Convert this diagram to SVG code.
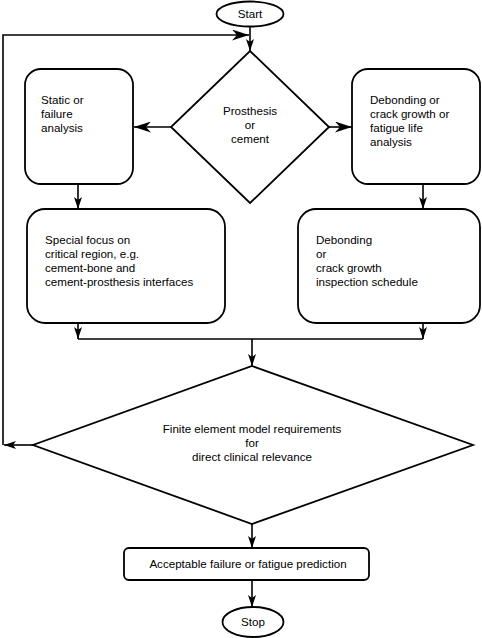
<svg xmlns="http://www.w3.org/2000/svg" width="482" height="638" viewBox="0 0 482 638">
<defs>
<style>
.n{fill:#fff;stroke:#000;stroke-width:1.8}
.c{fill:none;stroke:#000;stroke-width:1.6}
text{font-family:"Liberation Sans",Arial,sans-serif;font-size:11.6px;fill:#000}
.m{text-anchor:middle}
</style>
<marker id="a" viewBox="0 0 12 8" refX="12" refY="4" markerWidth="12" markerHeight="8" markerUnits="userSpaceOnUse" orient="auto">
<path d="M0,0 L12,4 L0,8 L3,4 Z" fill="#000"/>
</marker>
<marker id="b" viewBox="0 0 17 11" refX="17" refY="5.5" markerWidth="17" markerHeight="11" markerUnits="userSpaceOnUse" orient="auto">
<path d="M0,0 L17,5.5 L0,11 L5,5.5 Z" fill="#000"/>
</marker>
</defs>
<rect width="482" height="638" fill="#fff"/>
<g id="connectors">
<path class="c" d="M250,26 V51" marker-end="url(#a)"/>
<path class="c" d="M33,445 H4" marker-end="url(#a)"/>
<path class="c" d="M3,445 V35 H249" marker-end="url(#b)"/>
<path class="c" d="M171,127 H134" marker-end="url(#b)"/>
<path class="c" d="M329,127 H352" marker-end="url(#b)"/>
<path class="c" d="M78,184 V209" marker-end="url(#a)"/>
<path class="c" d="M423,184 V209" marker-end="url(#a)"/>
<path class="c" d="M78,323 V339" marker-end="url(#a)"/>
<path class="c" d="M423,323 V339" marker-end="url(#a)"/>
<path class="c" d="M78,339 H423"/>
<path class="c" d="M252,339 V366" marker-end="url(#a)"/>
<path class="c" d="M252,524 V548" marker-end="url(#a)"/>
<path class="c" d="M252,580 V607" marker-end="url(#a)"/>
</g>
<g id="start">
<ellipse class="n" cx="250" cy="14" rx="33.5" ry="12.5"/>
<text class="m" x="250" y="18">Start</text>
</g>
<g id="decision1">
<polygon class="n" points="250,51 329,127 250,203 171,127"/>
<text class="m" x="250" y="115">Prosthesis</text>
<text class="m" x="250" y="129">or</text>
<text class="m" x="250" y="143">cement</text>
</g>
<g id="static">
<rect class="n" x="25" y="69" width="108" height="115" rx="16"/>
<text x="41" y="104">Static or</text>
<text x="41" y="118">failure</text>
<text x="41" y="132">analysis</text>
</g>
<g id="debonding">
<rect class="n" x="352" y="69" width="128" height="115" rx="16"/>
<text x="370" y="104">Debonding or</text>
<text x="370" y="118">crack growth or</text>
<text x="370" y="132">fatigue life</text>
<text x="370" y="146">analysis</text>
</g>
<g id="focus">
<rect class="n" x="27" y="209" width="198" height="114" rx="18"/>
<text x="45" y="244">Special focus on</text>
<text x="45" y="258">critical region, e.g.</text>
<text x="45" y="272">cement-bone and</text>
<text x="45" y="286">cement-prosthesis interfaces</text>
</g>
<g id="schedule">
<rect class="n" x="298" y="209" width="182" height="114" rx="18"/>
<text x="316" y="244">Debonding</text>
<text x="316" y="258">or</text>
<text x="316" y="272">crack growth</text>
<text x="316" y="286">inspection schedule</text>
</g>
<g id="decision2">
<polygon class="n" points="252,366 473,445 252,524 33,445"/>
<text class="m" x="252" y="433">Finite element model requirements</text>
<text class="m" x="252" y="447">for</text>
<text class="m" x="252" y="461">direct clinical relevance</text>
</g>
<g id="acceptable">
<rect class="n" x="124" y="548" width="245" height="32" rx="5"/>
<text class="m" x="248" y="568">Acceptable failure or fatigue prediction</text>
</g>
<g id="stop">
<ellipse class="n" cx="253" cy="622" rx="30.5" ry="15"/>
<text class="m" x="253" y="626">Stop</text>
</g>
</svg>
